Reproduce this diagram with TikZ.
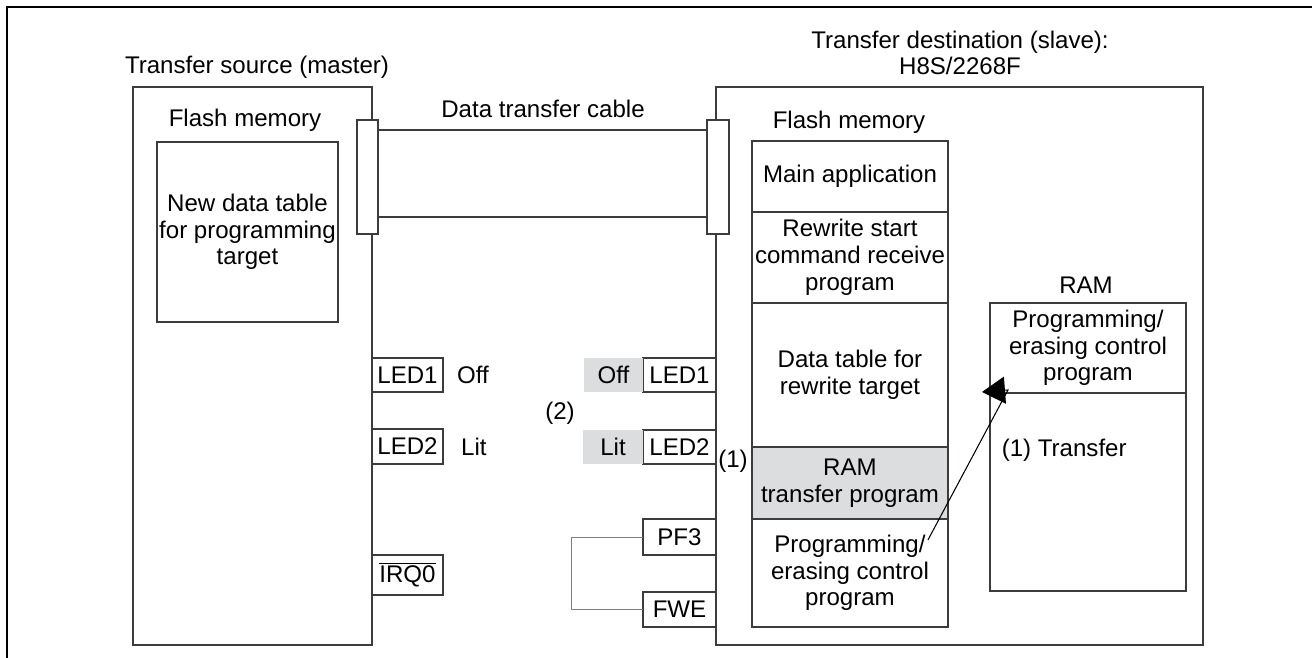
\documentclass[tikz,border=0pt]{standalone}
\usepackage{fontspec}
\setmainfont{Liberation Sans}
\usepackage{tikz}
\usetikzlibrary{positioning,calc,arrows.meta}
\definecolor{edge}{RGB}{60,60,60}
\definecolor{shade}{RGB}{220,221,222}

\begin{document}
\begin{tikzpicture}[x=0.02cm, y=-0.02cm,
  every node/.style={align=center, font=\fontsize{13.7}{15.2}\selectfont, inner sep=1pt, outer sep=0pt},
  box/.style={draw=edge, line width=0.7pt, rectangle},
  pinbox/.style={box, minimum width=1.42cm, minimum height=0.68cm},
  wire/.style={draw=gray, line width=0.5pt}]

\useasboundingbox (0,0) rectangle (1312,658);
\draw[black, line width=1.4pt] (1312,7) -- (7,7) -- (7,658);

% Master side
\node (srctitle) at (257,67) {Transfer source (master)};
\node (master) [box, anchor=north west, minimum width=4.78cm, minimum height=11.16cm] at (133,87) {};
\node (srcflash) at (245,120) {Flash memory};
\node (newtable) [box, anchor=north west, minimum width=3.62cm, minimum height=3.6cm] at (157,142) {New data table\\for programming\\target};

\node (mled1) [pinbox, anchor=north west] at (372,358) {LED1};
\node (mled2) [pinbox, anchor=north west, minimum height=0.7cm] at (372,429) {LED2};
\node (mirq) [pinbox, anchor=north west, minimum height=0.8cm] at (372,555) {$\overline{\mbox{IRQ0}}$};
\node (moff) [right=0.25cm of mled1] {Off};
\node (mlit) [right=0.33cm of mled2] {Lit};

% Slave side
\node (dsttitle) at (960,53) {Transfer destination (slave):\\H8S/2268F};
\node (slave) [box, anchor=north west, minimum width=9.74cm, minimum height=11.16cm] at (716,87) {};
\node (dstflash) at (849,122) {Flash memory};
\node (fmain) [box, anchor=north west, minimum width=3.92cm, minimum height=1.42cm] at (752,141) {Main application};
\node (frewrite) [box, below=0pt of fmain, minimum width=3.92cm, minimum height=1.82cm] {Rewrite start\\command receive\\program};
\node (fdata) [box, below=0pt of frewrite, minimum width=3.92cm, minimum height=2.88cm] {Data table for\\rewrite target};
\node (fxfer) [box, fill=shade, below=0pt of fdata, minimum width=3.92cm, minimum height=1.44cm] {RAM\\transfer program};
\node (fprog) [box, below=0pt of fxfer, minimum width=3.92cm, minimum height=2.16cm] {Programming/\\erasing control\\program};

\node (ramlabel) at (1086,285) {RAM};
\node (ramtop) [box, anchor=north west, minimum width=3.92cm, minimum height=1.8cm] at (990,303) {Programming/\\erasing control\\program};
\node (rambot) [box, below=0pt of ramtop, minimum width=3.92cm, minimum height=3.96cm] {};
\node (xferlabel) [anchor=west] at (1000,450) {(1) Transfer};
\node (step1) at (733,461) {(1)};

\node (sled1) [pinbox, anchor=north east, minimum width=1.46cm] at (716,358) {LED1};
\node (soff) [left=0pt of sled1, fill=shade, minimum width=1.18cm, minimum height=0.68cm] {Off};
\node (sled2) [pinbox, anchor=north east, minimum width=1.46cm] at (716,430) {LED2};
\node (slit) [left=0pt of sled2, fill=shade, minimum width=1.2cm, minimum height=0.68cm] {Lit};
\node (step2) at (560,413) {(2)};
\node (pf3) [pinbox, anchor=north east, minimum width=1.46cm, minimum height=0.72cm] at (716,519) {PF3};
\node (fwe) [pinbox, anchor=north east, minimum width=1.46cm, minimum height=0.7cm] at (716,592) {FWE};
\draw[wire] (pf3.west) -- ++(-72,0) |- (fwe.west);

% Cable
\node (lconn) [box, fill=white, anchor=north west, minimum width=0.42cm, minimum height=2.28cm] at (357,120) {};
\node (rconn) [box, fill=white, anchor=north west, minimum width=0.44cm, minimum height=2.28cm] at (707,120) {};
\node (cable) at (543,109) {Data transfer cable};
\draw[edge, line width=0.7pt] ([yshift=-0.2cm]lconn.north east) -- ([yshift=-0.2cm]rconn.north west);
\draw[edge, line width=0.7pt] ([yshift=0.34cm]lconn.south east) -- ([yshift=0.34cm]rconn.south west);

% Transfer arrow
\draw[-{Triangle[length=0.46cm,width=0.54cm]}, line width=0.6pt] ($(fprog.north east)+(-20,21)$) -- ($(ramtop.south west)+(18,-3)$) -- ($(ramtop.south west)+(-8,-1)$);

\end{tikzpicture}
\end{document}
